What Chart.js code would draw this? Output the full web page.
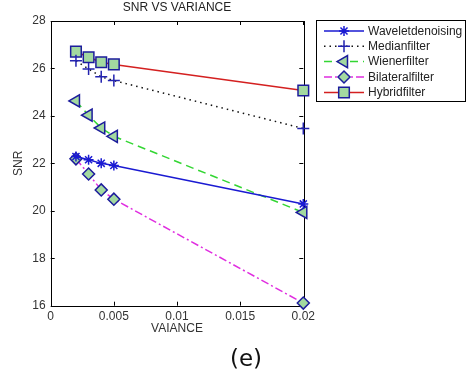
<!DOCTYPE html>
<html><head><meta charset="utf-8">
<script src="https://cdn.jsdelivr.net/npm/chart.js@4.4.0/dist/chart.umd.min.js"></script>
<style>html,body{margin:0;padding:0;background:#fff;overflow:hidden}canvas{display:block}</style>
</head><body>
<canvas id="c" width="467" height="372"></canvas>
<script>
const variance = [0.002, 0.003, 0.004, 0.005, 0.02];
const waveletDenoising = [22.29, 22.15, 22.0, 21.91, 20.29];
const medianFilter = [26.32, 25.98, 25.65, 25.49, 23.47];
const wienerFilter = [24.63, 24.03, 23.49, 23.14, 19.93];
const bilateralFilter = [22.19, 21.55, 20.88, 20.49, 16.11];
const hybridFilter = [26.71, 26.47, 26.26, 26.17, 25.07];
const seriesNames = ['Waveletdenoising', 'Medianfilter', 'Wienerfilter', 'Bilateralfilter', 'Hybridfilter'];
const xTicks = [0, 0.005, 0.01, 0.015, 0.02];
const yTicks = [16, 18, 20, 22, 24, 26, 28];
const chartTitle = 'SNR VS VARIANCE';
const xTitle = 'VAIANCE';
const yTitle = 'SNR';
const caption = '(e)';

const FONT = "'Liberation Sans', Arial, sans-serif";
const MARK_FILL = '#a3d9a0';
const MARK_EDGE = '#1c1c9c';

function pts(vals) { return vals.map((v, i) => ({x: variance[i], y: v})); }

const datasets = [
  {label: seriesNames[0], data: pts(waveletDenoising), borderColor: '#1a1ad2', borderDash: [],
   pointStyle: 'star', pointRadius: 5, pointRotation: 0, pointBackgroundColor: '#1a1ad2', pointBorderColor: '#1a1ad2', pointBorderWidth: 1.5},
  {label: seriesNames[1], data: pts(medianFilter), borderColor: '#111111', borderDash: [1.5, 4],
   pointStyle: 'cross', pointRadius: 6, pointRotation: 0, pointBackgroundColor: '#2323b0', pointBorderColor: '#2323b0', pointBorderWidth: 1.5},
  {label: seriesNames[2], data: pts(wienerFilter), borderColor: '#33d633', borderDash: [8, 5],
   pointStyle: 'triangle', pointRadius: 7, pointRotation: -90, pointBackgroundColor: MARK_FILL, pointBorderColor: MARK_EDGE, pointBorderWidth: 1.5},
  {label: seriesNames[3], data: pts(bilateralFilter), borderColor: '#e02ee0', borderDash: [8, 3, 2, 3],
   pointStyle: 'rectRot', pointRadius: 6, pointRotation: 0, pointBackgroundColor: MARK_FILL, pointBorderColor: MARK_EDGE, pointBorderWidth: 1.5},
  {label: seriesNames[4], data: pts(hybridFilter), borderColor: '#d42020', borderDash: [],
   pointStyle: 'rect', pointRadius: 7.5, pointRotation: 0, pointBackgroundColor: MARK_FILL, pointBorderColor: MARK_EDGE, pointBorderWidth: 1.5}
].map(d => Object.assign({borderWidth: 1.5, fill: false, tension: 0, clip: false, pointHoverRadius: d.pointRadius}, d));

function drawMarker(ctx, ds, x, y) {
  ctx.save();
  ctx.setLineDash([]);
  ctx.fillStyle = ds.pointBackgroundColor;
  ctx.strokeStyle = ds.pointBorderColor;
  ctx.lineWidth = ds.pointBorderWidth;
  Chart.helpers.drawPoint(ctx, {pointStyle: ds.pointStyle, rotation: ds.pointRotation, radius: ds.pointRadius, borderWidth: ds.pointBorderWidth}, x, y);
  ctx.restore();
}

const decor = {
  id: 'decor',
  beforeDatasetsDraw(chart) {
    const {ctx, chartArea: a, scales: {x, y}} = chart;
    ctx.save();
    ctx.strokeStyle = '#000';
    ctx.lineWidth = 1;
    ctx.setLineDash([]);
    ctx.beginPath();
    const L = 4;
    xTicks.forEach(v => {
      const px = Math.round(x.getPixelForValue(v)) + 0.5;
      ctx.moveTo(px, a.bottom); ctx.lineTo(px, a.bottom - L);
      ctx.moveTo(px, a.top); ctx.lineTo(px, a.top + L);
    });
    yTicks.forEach(v => {
      const py = Math.round(y.getPixelForValue(v)) + 0.5;
      ctx.moveTo(a.left, py); ctx.lineTo(a.left + L, py);
      ctx.moveTo(a.right, py); ctx.lineTo(a.right - L, py);
    });
    ctx.stroke();
    ctx.strokeRect(Math.round(a.left) + 0.5, Math.round(a.top) + 0.5, Math.round(a.right - a.left), Math.round(a.bottom - a.top));
    ctx.restore();
  },
  afterDraw(chart) {
    const {ctx, chartArea: a} = chart;
    ctx.save();
    // title
    ctx.fillStyle = '#222';
    ctx.font = '12px ' + FONT;
    ctx.textAlign = 'center';
    ctx.textBaseline = 'middle';
    ctx.fillText(chartTitle, (a.left + a.right) / 2, 8);
    // caption
    ctx.font = '23px DejaVu Sans, sans-serif';
    ctx.fillStyle = '#111';
    ctx.fillText(caption, 246, 360);
    // legend box
    const bx = 316.5, by = 20.5, bw = 149, bh = 81;
    ctx.fillStyle = '#fff';
    ctx.fillRect(bx, by, bw, bh);
    ctx.strokeStyle = '#000';
    ctx.lineWidth = 1;
    ctx.strokeRect(bx, by, bw, bh);
    const rows = [31, 46.3, 61.6, 77, 92.5];
    chart.data.datasets.forEach((ds, i) => {
      const yy = rows[i];
      ctx.save();
      ctx.strokeStyle = ds.borderColor;
      ctx.lineWidth = ds.borderWidth;
      ctx.setLineDash(ds.borderDash);
      ctx.beginPath();
      ctx.moveTo(324, yy); ctx.lineTo(364, yy);
      ctx.stroke();
      ctx.restore();
      drawMarker(ctx, ds, 344, yy);
      ctx.fillStyle = '#222';
      ctx.font = '12px ' + FONT;
      ctx.textAlign = 'left';
      ctx.textBaseline = 'middle';
      ctx.fillText(ds.label, 368, yy + 0.5);
    });
    ctx.restore();
  }
};

new Chart(document.getElementById('c'), {
  type: 'line',
  data: {datasets},
  options: {
    responsive: false,
    animation: false,
    events: [],
    layout: {padding: {top: 21, right: 163.7, left: 0, bottom: 0}},
    plugins: {legend: {display: false}, title: {display: false}, tooltip: {enabled: false}},
    scales: {
      x: {
        type: 'linear', min: 0, max: 0.02,
        grid: {display: false, drawTicks: false},
        border: {display: false},
        afterBuildTicks: s => { s.ticks = xTicks.map(v => ({value: v})); },
        afterFit: s => { s.height = 66.3; },
        ticks: {color: '#333', font: {family: FONT, size: 12}, padding: 4, maxRotation: 0, autoSkip: false,
                callback: v => String(v)},
        title: {display: true, text: xTitle, color: '#333', font: {family: FONT, size: 12}, padding: {top: 0, bottom: 36}}
      },
      y: {
        type: 'linear', min: 16, max: 28,
        grid: {display: false, drawTicks: false},
        border: {display: false},
        afterBuildTicks: s => { s.ticks = yTicks.map(v => ({value: v})); },
        afterFit: s => { s.width = 50.7; },
        ticks: {color: '#333', font: {family: FONT, size: 12}, padding: 5, autoSkip: false,
                callback: v => String(v)},
        title: {display: true, text: yTitle, color: '#333', font: {family: FONT, size: 12}, padding: {top: 11, bottom: 0}}
      }
    }
  },
  plugins: [decor]
});
</script>
</body></html>
